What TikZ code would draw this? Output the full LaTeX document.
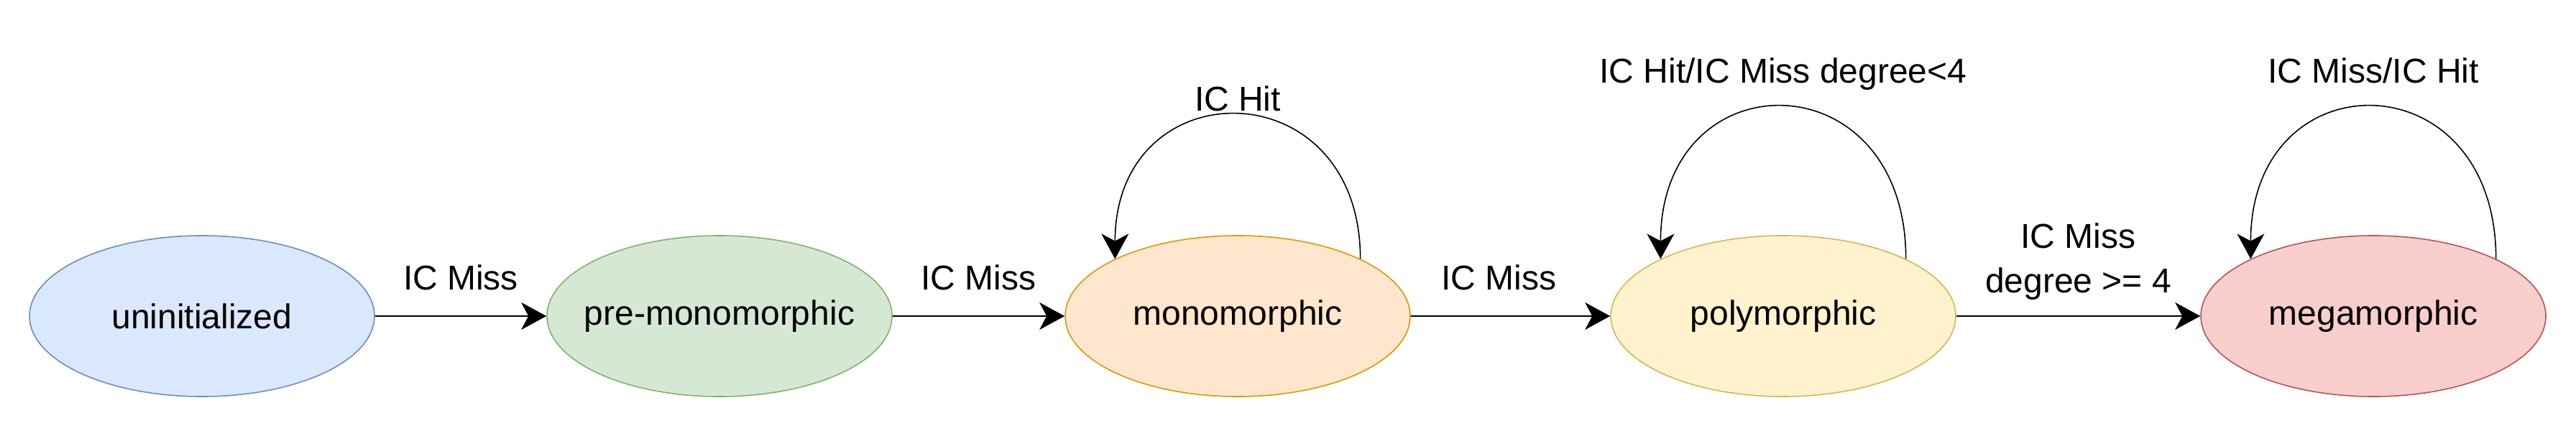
\documentclass[tikz,border=0pt]{standalone}
\usepackage{fontspec}
\setmainfont{Liberation Sans}
\usepackage{tikz}
\usetikzlibrary{shapes,arrows.meta,positioning}
\definecolor{blueFill}{HTML}{DAE8FC}\definecolor{blueLine}{HTML}{6C8EBF}
\definecolor{greenFill}{HTML}{D5E8D4}\definecolor{greenLine}{HTML}{82B366}
\definecolor{orangeFill}{HTML}{FFE6CC}\definecolor{orangeLine}{HTML}{D79B00}
\definecolor{yellowFill}{HTML}{FFF2CC}\definecolor{yellowLine}{HTML}{D6B656}
\definecolor{redFill}{HTML}{F8CECC}\definecolor{redLine}{HTML}{B85450}
\tikzset{
    -{Stealth[length=8.75pt,width=9.5pt,inset=2.5pt]},line width=1pt,
    x=1pt,y=1pt,
    font=\fontsize{12pt}{15.4pt}\selectfont,
    state/.style ={ellipse, draw, minimum width = 120pt, minimum height = 56pt, inner xsep=-15pt, inner ysep=0pt},
    lbl/.style = {inner sep=0pt, align=center},
    loop/.style = {out=90, in=90}
}
\begin{document}
\begin{tikzpicture}
    \useasboundingbox (0,0) rectangle (896,148);
    \node[state, draw=blueLine, fill=blueFill] (uninit) at (70.25,38) {uninitialized};
    \node[state, draw=greenLine, fill=greenFill] (premono) at (250.25,38) {pre-monomorphic};
    \node[state, draw=orangeLine, fill=orangeFill] (mono) at (430.5,38) {monomorphic};
    \node[state, draw=yellowLine, fill=yellowFill] (poly) at (620.25,38) {polymorphic};
    \node[state, draw=redLine, fill=redFill] (mega) at (825.5,38) {megamorphic};

    \path (uninit) edge node[lbl, anchor=base, yshift=9.1pt] {IC Miss} (premono);
    \path (premono) edge node[lbl, anchor=base, yshift=9.1pt] {IC Miss} (mono);
    \path (mono) edge node[lbl, anchor=base, yshift=9.1pt, xshift=-4pt] {IC Miss} (poly);
    \path (poly) edge node[lbl, above=5.5pt] {IC Miss\\degree >= 4} (mega);

    \path (mono.25) edge[loop, looseness=2] node[lbl, anchor=base, yshift=1.6pt] {IC Hit} (mono.155);
    \path (poly.25) edge[loop, looseness=2.11] node[lbl, anchor=base, yshift=8.7pt] {IC Hit/IC Miss degree<4} (poly.155);
    \path (mega.25) edge[loop, looseness=2.11] node[lbl, anchor=base, yshift=8.7pt] {IC Miss/IC Hit} (mega.155);
\end{tikzpicture}
\end{document}
